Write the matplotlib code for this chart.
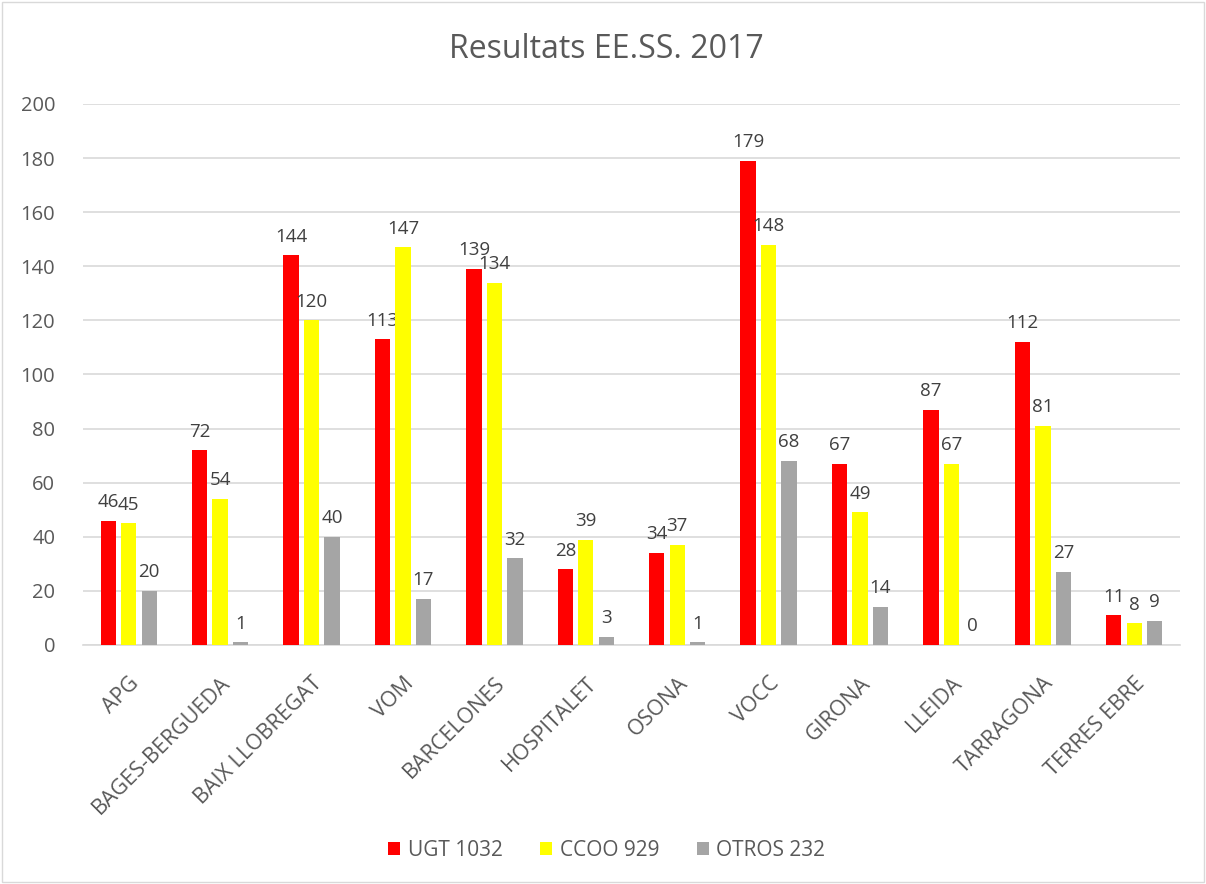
import matplotlib
matplotlib.use("Agg")
import matplotlib.pyplot as plt
import numpy as np
from matplotlib.patches import Rectangle

categories = ["APG", "BAGES-BERGUEDA", "BAIX LLOBREGAT", "VOM", "BARCELONES",
              "HOSPITALET", "OSONA", "VOCC", "GIRONA", "LLEIDA", "TARRAGONA", "TERRES EBRE"]
ugt = [46, 72, 144, 113, 139, 28, 34, 179, 67, 87, 112, 11]
ccoo = [45, 54, 120, 147, 134, 39, 37, 148, 49, 67, 81, 8]
otros = [20, 1, 40, 17, 32, 3, 1, 68, 14, 0, 27, 9]
series_names = ["UGT 1032", "CCOO 929", "OTROS 232"]
colors = ["#FF0000", "#FFFF00", "#A5A5A5"]
yticks = [0, 20, 40, 60, 80, 100, 120, 140, 160, 180, 200]

plt.rcParams['font.family'] = ['Open Sans', 'DejaVu Sans']
text_color = "#595959"

fig = plt.figure(figsize=(12.06, 8.84), dpi=100)
ax = fig.add_axes([83/1206, 1-645/884, (1180-83)/1206, (645-104)/884])

x = np.arange(len(categories))
w = 0.168
step = 0.224
for i, (vals, name, c) in enumerate(zip([ugt, ccoo, otros], series_names, colors)):
    pos = x + (i - 1) * step
    ax.bar(pos, vals, width=w, color=c, label=name, zorder=3)
    for p, v in zip(pos, vals):
        ax.annotate(str(v), (p, v), xytext=(0, 7), textcoords="offset points",
                    ha="center", va="bottom", fontsize=13.5, color="#404040")

ax.set_xlim(-0.5, len(categories) - 0.5)
ax.set_ylim(0, 200)
ax.set_yticks(yticks)
ax.set_xticks(x)
ax.set_xticklabels(categories, rotation=45, ha="right", rotation_mode="anchor",
                   fontsize=15.5, color=text_color)
ax.tick_params(axis="y", labelsize=14.5, labelcolor=text_color, length=0, pad=20)
ax.tick_params(axis="x", length=0, pad=20)
ax.grid(axis="y", color="#D9D9D9", linewidth=1.2, zorder=0)
for s in ["top", "right", "left"]:
    ax.spines[s].set_visible(False)
ax.spines["bottom"].set_color("#D9D9D9")
ax.spines["bottom"].set_linewidth(1.2)

fig.text(0.503, 1-50/884, "Resultats EE.SS. 2017", ha="center", va="center",
         fontsize=23, color=text_color)

fig.legend(loc="center", bbox_to_anchor=(0.503, 1-850/884), ncol=3, frameon=False,
           fontsize=15, labelcolor=text_color, handlelength=0.6, handleheight=0.6,
           columnspacing=1.8, handletextpad=0.35)

fig.patches.append(Rectangle((0.002, 0.002), 0.996, 0.996, transform=fig.transFigure,
                             fill=False, edgecolor="#D9D9D9", linewidth=1))

fig.savefig("out.png", dpi=100)
